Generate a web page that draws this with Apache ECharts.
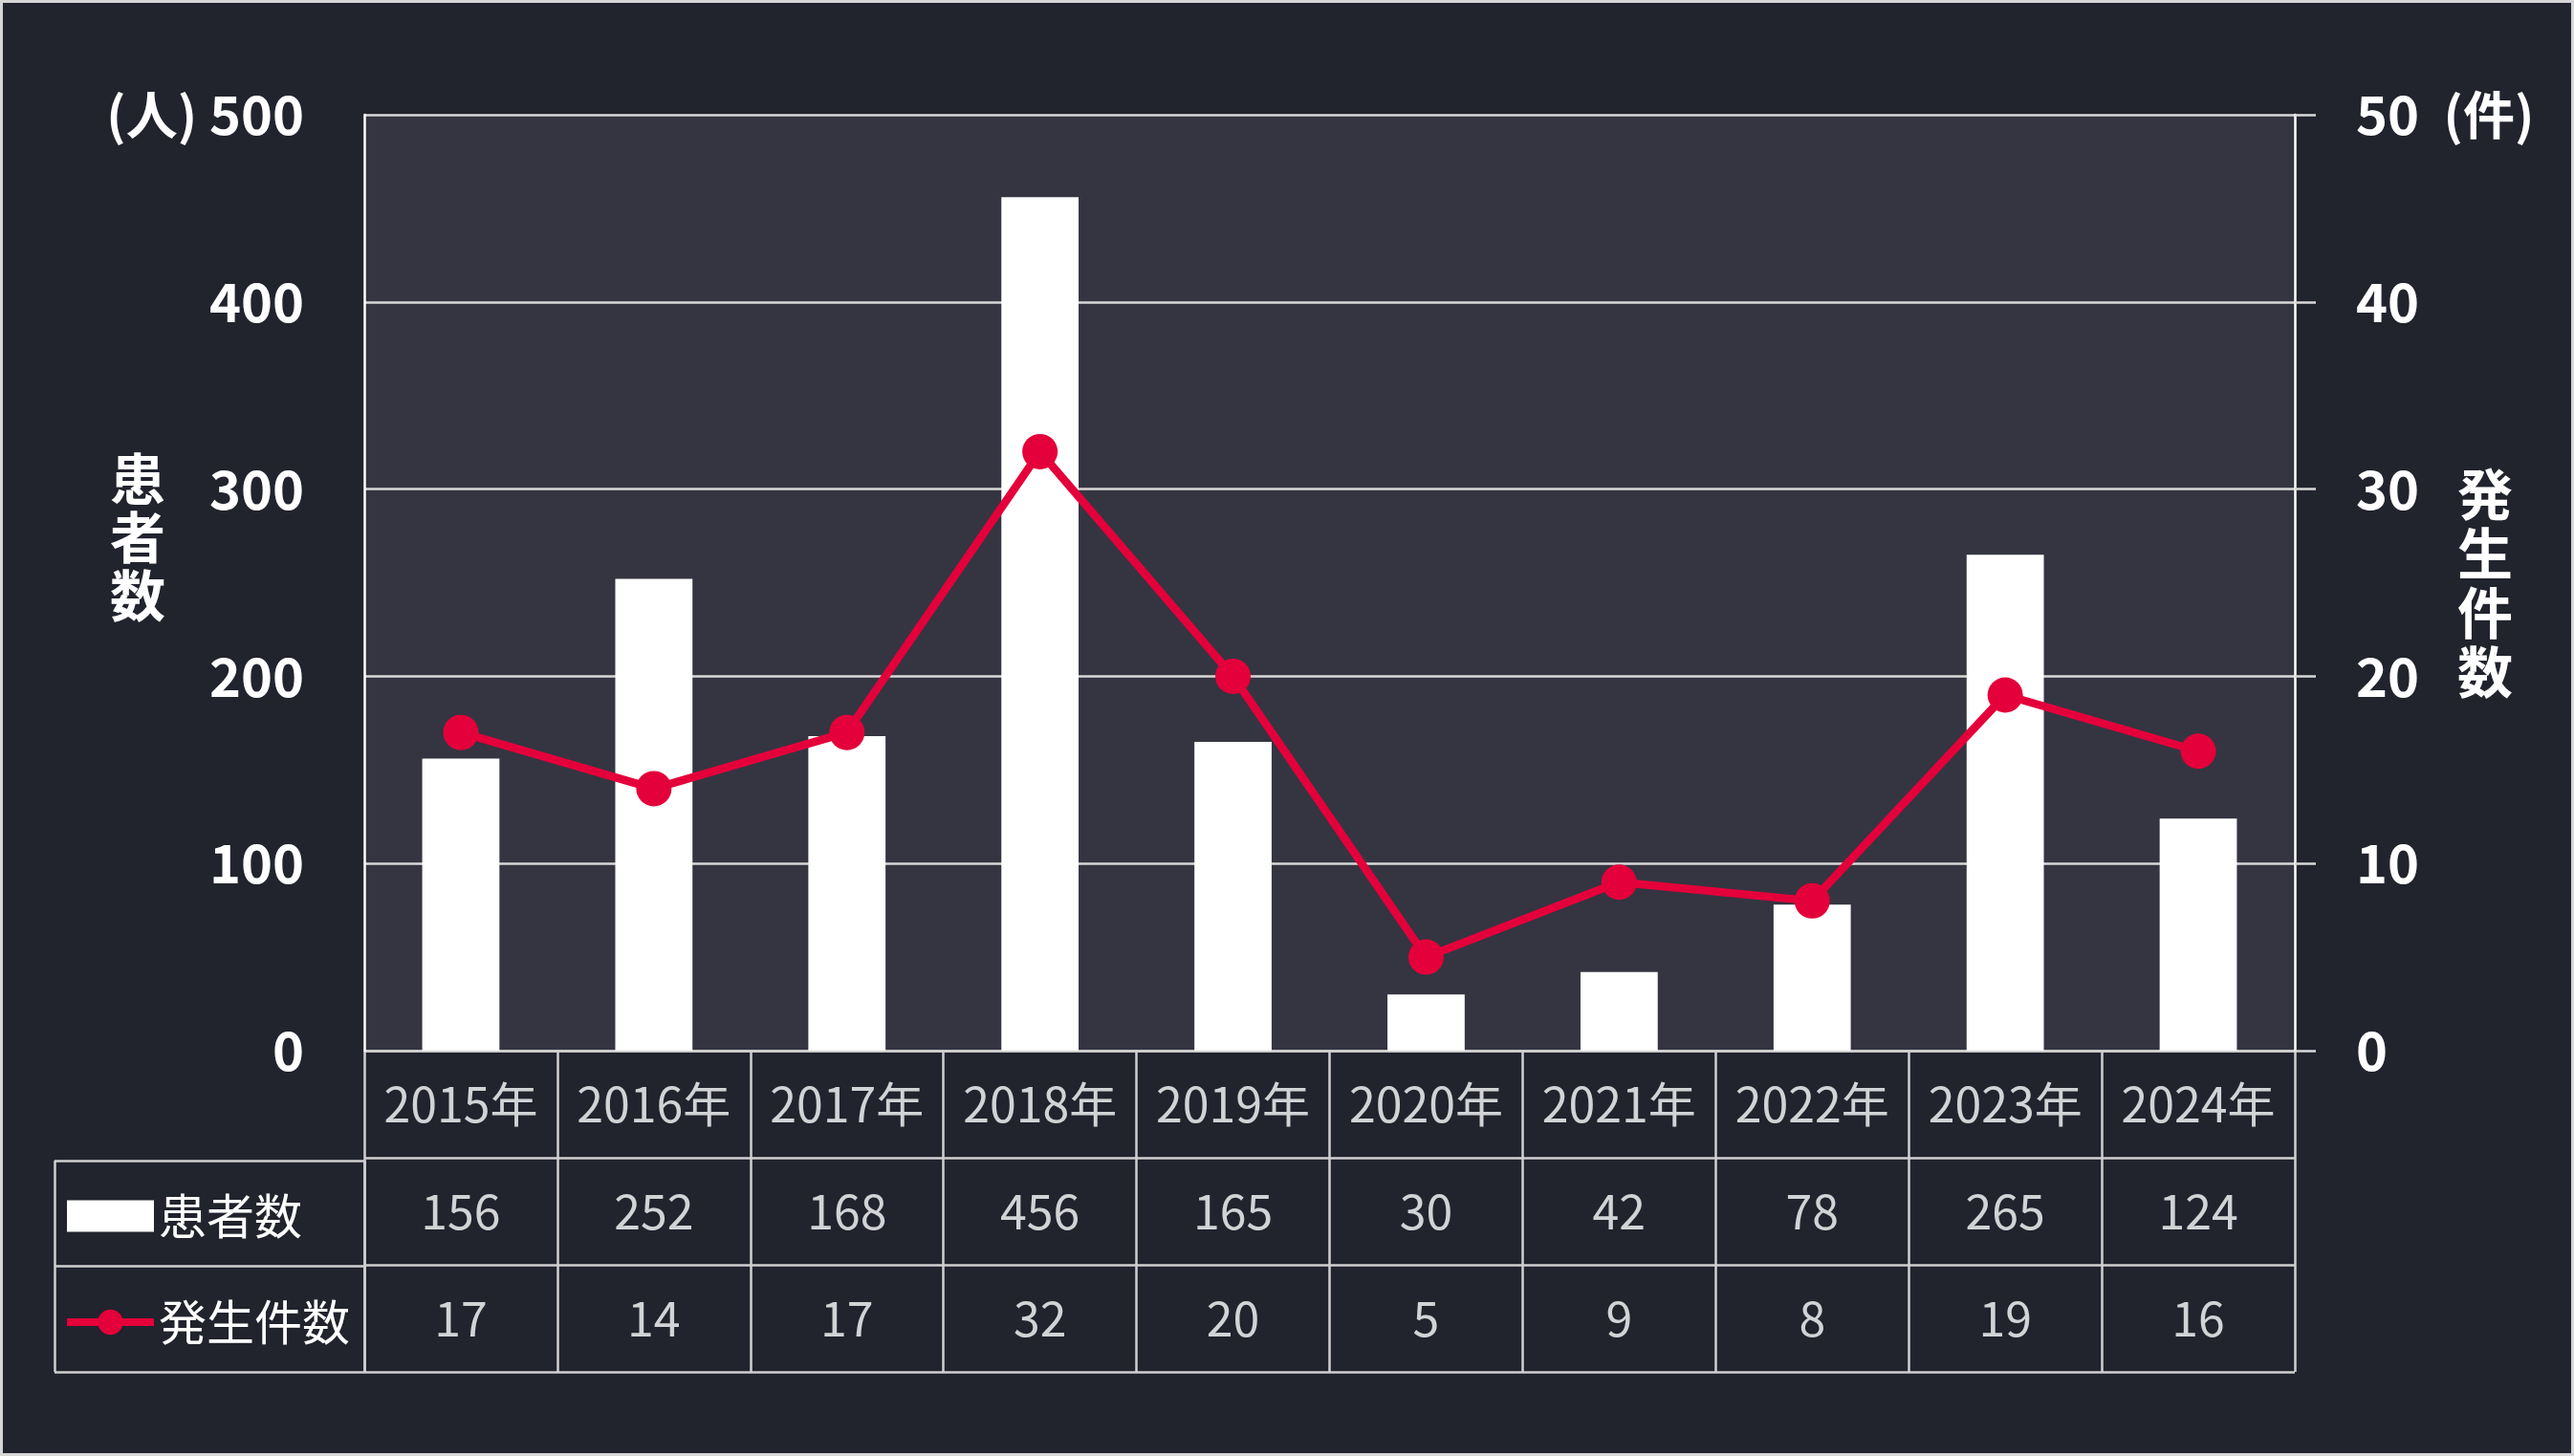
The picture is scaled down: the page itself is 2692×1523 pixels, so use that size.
<!DOCTYPE html>
<html>
<head>
<meta charset="utf-8">
<script src="https://cdn.jsdelivr.net/npm/echarts@6/dist/echarts.min.js"></script>
<style>
html,body{margin:0;padding:0;background:#d6d6d6;width:2692px;height:1523px;overflow:hidden;}
#chart{position:absolute;left:3px;top:3px;width:2686px;height:1517px;background:#21232d;}
</style>
</head>
<body>
<div id="chart"></div>
<script>
const years = ['2015年','2016年','2017年','2018年','2019年','2020年','2021年','2022年','2023年','2024年'];
const patients = [156, 252, 168, 456, 165, 30, 42, 78, 265, 124];
const incidents = [17, 14, 17, 32, 20, 5, 9, 8, 19, 16];
const leftTicks = [0, 100, 200, 300, 400, 500];
const rightTicks = [0, 10, 20, 30, 40, 50];

const FONT = '"Noto Sans CJK JP", "Noto Sans", sans-serif';
const RED = '#e4003a';
const GRID_LINE = '#d9d9d9';
const TABLE_LINE = '#d0d0d0';

const chart = echarts.init(document.getElementById('chart'));

function cellSeries(name, yPos, values) {
  return {
    name: name,
    type: 'scatter',
    xAxisIndex: 1,
    yAxisIndex: 2,
    symbol: 'rect',
    symbolSize: 1,
    silent: true,
    itemStyle: { color: 'rgba(0,0,0,0)' },
    label: {
      show: true,
      position: 'inside',
      formatter: p => String(values[p.dataIndex]),
      color: '#ffffff',
      fontFamily: FONT,
      fontSize: 50,
      fontWeight: 'normal'
    },
    data: values.map((v, i) => [i, yPos])
  };
}

const option = {
  backgroundColor: '#21232d',
  animation: false,
  textStyle: { fontFamily: FONT },
  grid: [
    { left: 378, right: 289, top: 117, bottom: 421, show: true, backgroundColor: '#343541', borderWidth: 0, containLabel: false, outerBoundsMode: 'none' },
    { left: 378, right: 289, top: 1096, bottom: 85, containLabel: false, outerBoundsMode: 'none' },
    { left: 54, width: 324, top: 1211, bottom: 85, containLabel: false, outerBoundsMode: 'none' }
  ],
  legend: {
    data: [
      { name: '患者数', icon: 'rect' },
      { name: '発生件数' }
    ],
    orient: 'vertical',
    left: 58,
    top: 1234,
    itemWidth: 91,
    itemHeight: 33,
    itemGap: 51,
    selectedMode: false,
    textStyle: { color: '#ffffff', fontSize: 50, fontFamily: FONT, lineHeight: 60 },
    lineStyle: { width: 8 }
  },
  xAxis: [
    {
      type: 'category', gridIndex: 0, data: years, boundaryGap: true,
      axisLine: { show: false }, axisTick: { show: false }, axisLabel: { show: false }, splitLine: { show: false }
    },
    {
      type: 'category', gridIndex: 1, data: years, boundaryGap: true,
      axisLine: { show: false }, axisTick: { show: false }, axisLabel: { show: false },
      splitLine: { show: true, interval: 0, lineStyle: { color: TABLE_LINE, width: 2.5 } }
    },
    {
      type: 'value', gridIndex: 2, min: 0, max: 1, interval: 1,
      axisLine: { show: false }, axisTick: { show: false }, axisLabel: { show: false },
      splitLine: { show: true, lineStyle: { color: TABLE_LINE, width: 2.5 } }
    }
  ],
  yAxis: [
    {
      type: 'value', gridIndex: 0, min: leftTicks[0], max: leftTicks[leftTicks.length - 1], interval: 100,
      name: '患\n者\n数\n{s| }', nameLocation: 'middle', nameRotate: 0, nameGap: 208, nameMoveOverlap: false,
      nameTextStyle: {
        color: '#ffffff', fontSize: 58, fontWeight: 'bold', lineHeight: 61, fontFamily: FONT,
        rich: { s: { fontSize: 2, lineHeight: 96 } }
      },
      axisLine: { show: true, lineStyle: { color: '#ffffff', width: 2.5 } },
      axisTick: { show: false },
      axisLabel: {
        color: '#ffffff', fontSize: 56, fontWeight: 'bold', fontFamily: FONT, margin: 63,
        formatter: v => v === leftTicks[leftTicks.length - 1] ? '{u|(人)} ' + v : String(v),
        rich: { u: { color: '#ffffff', fontSize: 54, fontWeight: 'bold', fontFamily: FONT } }
      },
      splitLine: { show: true, lineStyle: { color: GRID_LINE, width: 2.5 } }
    },
    {
      type: 'value', gridIndex: 0, position: 'right', min: rightTicks[0], max: rightTicks[rightTicks.length - 1], interval: 10,
      name: '発\n生\n件\n数', nameLocation: 'middle', nameRotate: 0, nameGap: 170, nameMoveOverlap: false,
      nameTextStyle: { color: '#ffffff', fontSize: 58, fontWeight: 'bold', lineHeight: 62, fontFamily: FONT },
      axisLine: { show: true, lineStyle: { color: '#ffffff', width: 2.5 } },
      axisTick: { show: true, inside: false, length: 22, lineStyle: { color: GRID_LINE, width: 2.5 } },
      axisLabel: {
        color: '#ffffff', fontSize: 56, fontWeight: 'bold', fontFamily: FONT, margin: 64,
        formatter: v => v === rightTicks[rightTicks.length - 1] ? v + '  {u|(件)}' : String(v),
        rich: { u: { color: '#ffffff', fontSize: 54, fontWeight: 'bold', fontFamily: FONT } }
      },
      splitLine: { show: false }
    },
    {
      type: 'value', gridIndex: 1, min: 0, max: 3, interval: 1,
      axisLine: { show: false }, axisTick: { show: false }, axisLabel: { show: false },
      splitLine: { show: true, lineStyle: { color: TABLE_LINE, width: 2.5 } }
    },
    {
      type: 'value', gridIndex: 2, min: 0, max: 2, interval: 1,
      axisLine: { show: false }, axisTick: { show: false }, axisLabel: { show: false },
      splitLine: { show: true, lineStyle: { color: TABLE_LINE, width: 2.5 } }
    }
  ],
  series: [
    {
      name: '患者数', type: 'bar', xAxisIndex: 0, yAxisIndex: 0,
      data: patients, barWidth: '40%',
      itemStyle: { color: '#ffffff' }
    },
    {
      name: '発生件数', type: 'line', xAxisIndex: 0, yAxisIndex: 1,
      data: incidents, symbol: 'circle', symbolSize: 37,
      lineStyle: { color: RED, width: 8.5 },
      itemStyle: { color: RED },
      z: 5
    },
    cellSeries('years', 2.5, years),
    cellSeries('patientsCells', 1.5, patients),
    cellSeries('incidentCells', 0.5, incidents)
  ]
};
chart.setOption(option);
</script>
</body>
</html>
